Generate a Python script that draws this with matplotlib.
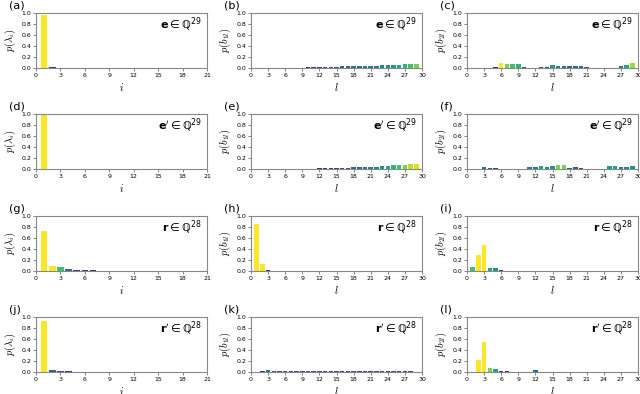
import numpy as np
import matplotlib.pyplot as plt
from matplotlib import colors

# values (index -> probability)
lam_e = {1: 0.97, 2: 0.015, 3: 0.008}
b1_e = {1: 0.001, 2: 0.001, 3: 0.001, 4: 0.002, 5: 0.003, 6: 0.004, 7: 0.005, 8: 0.006,
        9: 0.008, 10: 0.01, 11: 0.012, 12: 0.015, 13: 0.02, 14: 0.022, 15: 0.025, 16: 0.028,
        17: 0.03, 18: 0.033, 19: 0.035, 20: 0.038, 21: 0.04, 22: 0.043, 23: 0.046, 24: 0.05,
        25: 0.055, 26: 0.06, 27: 0.065, 28: 0.07, 29: 0.08}
b2_e = {2: 0.002, 3: 0.002, 5: 0.01, 6: 0.1, 7: 0.08, 8: 0.07, 9: 0.065, 10: 0.02, 11: 0.005,
        13: 0.02, 14: 0.02, 15: 0.055, 16: 0.045, 17: 0.035, 18: 0.03, 19: 0.03, 20: 0.03,
        21: 0.025, 22: 0.004, 23: 0.004, 27: 0.04, 28: 0.06, 29: 0.085}

lam_ep = {1: 1.0}
b1_ep = {8: 0.002, 9: 0.004, 10: 0.006, 11: 0.008, 12: 0.01, 13: 0.012, 14: 0.015, 15: 0.017,
         16: 0.02, 17: 0.025, 18: 0.03, 19: 0.033, 20: 0.037, 21: 0.04, 22: 0.045, 23: 0.05,
         24: 0.06, 25: 0.065, 26: 0.07, 27: 0.08, 28: 0.09, 29: 0.095}
b2_ep = {3: 0.035, 4: 0.025, 5: 0.02, 11: 0.04, 12: 0.04, 13: 0.06, 14: 0.045, 15: 0.05,
         16: 0.08, 17: 0.08, 18: 0.025, 19: 0.03, 20: 0.02, 21: 0.005, 22: 0.003, 23: 0.003,
         24: 0.003, 25: 0.055, 26: 0.06, 27: 0.04, 28: 0.045, 29: 0.05}

lam_r = {1: 0.72, 2: 0.1, 3: 0.07, 4: 0.035, 5: 0.015, 6: 0.012, 7: 0.01, 8: 0.008, 9: 0.006, 10: 0.004}
b1_r = {1: 0.85, 2: 0.13, 3: 0.01}
b2_r = {1: 0.07, 2: 0.29, 3: 0.47, 4: 0.06, 5: 0.05, 6: 0.015, 8: 0.003, 14: 0.002}

lam_rp = {1: 0.93, 2: 0.03, 3: 0.02, 4: 0.01, 5: 0.003, 6: 0.003}
b1_rp = {2: 0.015, 3: 0.035, 4: 0.022, 5: 0.02, 6: 0.022, 7: 0.02, 8: 0.02, 9: 0.02, 10: 0.02,
         11: 0.02, 12: 0.022, 13: 0.02, 14: 0.02, 15: 0.02, 16: 0.02, 17: 0.02, 18: 0.02,
         19: 0.02, 20: 0.02, 21: 0.02, 22: 0.02, 23: 0.02, 24: 0.02, 25: 0.02, 26: 0.02,
         27: 0.02, 28: 0.02}
b2_rp = {2: 0.22, 3: 0.54, 4: 0.08, 5: 0.06, 6: 0.01, 7: 0.01, 11: 0.005, 12: 0.03}

rows = [
    ([lam_e, b1_e, b2_e], r'$\mathbf{e}\in$ℚ$^{29}$'),
    ([lam_ep, b1_ep, b2_ep], r"$\mathbf{e}^{\prime}\in$ℚ$^{29}$"),
    ([lam_r, b1_r, b2_r], r'$\mathbf{r}\in$ℚ$^{28}$'),
    ([lam_rp, b1_rp, b2_rp], r"$\mathbf{r}^{\prime}\in$ℚ$^{28}$"),
]
ylabels = [r'$p(\lambda_i)$', r'$p(b_{1l})$', r'$p(b_{2l})$']
xlabels = [r'$i$', r'$l$', r'$l$']
xmax = [21, 30, 30]
letters = 'abcdefghijkl'

fig = plt.figure(figsize=(6.4, 3.94), dpi=100)
W, H = 640, 394
lefts = [36, 251, 467]
tops = [13, 114, 216, 317]
aw, ah = 171, 55

# colour follows the bar height, saturating at 0.1
norm = colors.Normalize(vmin=0, vmax=0.1)
cmap = plt.get_cmap('viridis')

k = 0
for r, (data, tag) in enumerate(rows):
    for c in range(3):
        ax = fig.add_axes([lefts[c] / W, 1 - (tops[r] + ah) / H, aw / W, ah / H])
        d = data[c]
        x = np.array(list(d.keys()))
        y = np.array(list(d.values()))
        ax.bar(x, y, width=0.8, color=cmap(norm(np.clip(y, 0, 0.1))))
        ax.set_xlim(0, xmax[c])
        ax.set_ylim(0, 1.0)
        ax.set_xticks(np.arange(0, xmax[c] + 1, 3))
        ax.set_yticks(np.arange(0, 1.01, 0.2))
        ax.tick_params(labelsize=4.5, length=2, width=0.5, pad=1.5, color='#555555')
        for s in ax.spines.values():
            s.set_color('#888888')
            s.set_linewidth(0.8)
        ax.set_ylabel(ylabels[c], fontsize=7.5, labelpad=2, math_fontfamily='cm')
        ax.set_xlabel(xlabels[c], fontsize=7.5, labelpad=2, math_fontfamily='cm')
        ax.text(0.97, 0.78, tag, transform=ax.transAxes, ha='right', va='center',
                fontsize=8)
        ax.text(-0.16, 1.13, '(' + letters[k] + ')', transform=ax.transAxes,
                ha='left', va='center', fontsize=8)
        k += 1

fig.savefig('out.png', dpi=100)
